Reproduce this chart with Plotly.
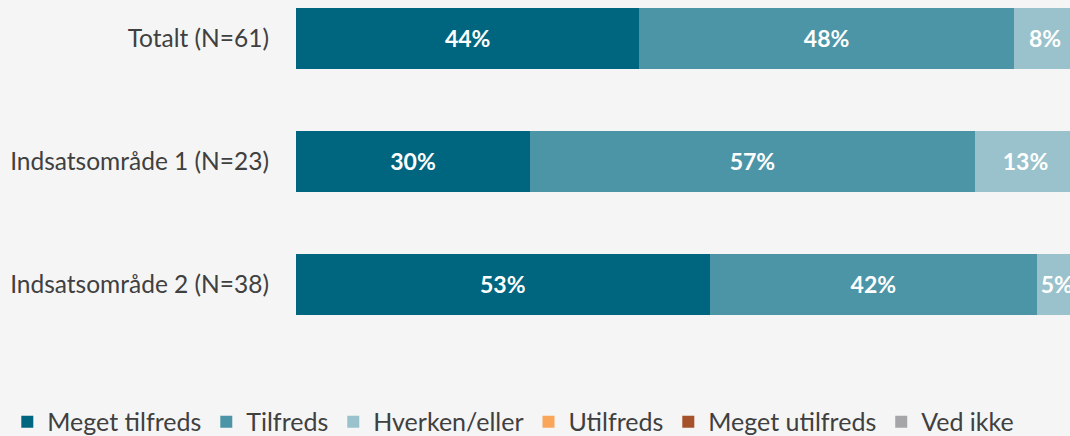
import plotly.graph_objects as go

categories = ["Totalt (N=61)", "Indsatsområde 1 (N=23)", "Indsatsområde 2 (N=38)"]
series_names = ["Meget tilfreds", "Tilfreds", "Hverken/eller", "Utilfreds", "Meget utilfreds", "Ved ikke"]
meget_tilfreds = [44, 30, 53]
tilfreds = [48, 57, 42]
hverken_eller = [8, 13, 5]
utilfreds = [0, 0, 0]
meget_utilfreds = [0, 0, 0]
ved_ikke = [0, 0, 0]
colors = ["#00667f", "#4c95a7", "#99c2cc", "#f9a65a", "#a5512a", "#a6a6a9"]

series = [meget_tilfreds, tilfreds, hverken_eller, utilfreds, meget_utilfreds, ved_ikke]
FONT = "Lato"
BG = "#f5f5f5"

fig = go.Figure()
for name, vals, col in zip(series_names, series, colors):
    fig.add_trace(go.Bar(
        y=categories, x=vals, name=name, orientation="h",
        marker=dict(color=col, line=dict(width=0)),
        text=[f"{v}%" if v > 0 else "" for v in vals],
        textposition="inside", insidetextanchor="middle",
        textfont=dict(color="white", size=23, family=FONT, weight="bold"),
        hoverinfo="skip",
    ))

fig.update_layout(
    barmode="stack",
    width=1070, height=436,
    margin=dict(l=296, r=0, t=0, b=91, autoexpand=False),
    paper_bgcolor=BG, plot_bgcolor=BG,
    bargap=0.504,
    font=dict(family=FONT, size=23, color="#404040"),
    xaxis=dict(range=[0, 99.2], visible=False, fixedrange=True),
    yaxis=dict(categoryorder="array", categoryarray=categories,
               range=[2.496, -0.313], showgrid=False, zeroline=False,
               showline=False, ticks="", ticklabelstandoff=26, fixedrange=True,
               tickfont=dict(size=24.5, family=FONT, color="#404040")),
    uniformtext=dict(mode=False),
    legend=dict(orientation="h", x=-0.373, xanchor="left", y=-0.223, yanchor="middle",
                font=dict(size=25, family=FONT, color="#404040"),
                traceorder="normal", itemwidth=30, bgcolor="rgba(0,0,0,0)"),
    showlegend=True,
)

fig.write_html(
    "out.html",
    config={"displayModeBar": False},
    post_script="document.body.style.margin='0';document.body.style.background='" + BG + "';",
)
